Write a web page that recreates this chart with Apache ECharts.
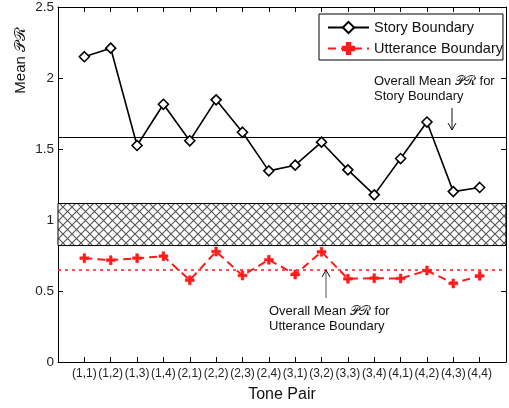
<!DOCTYPE html>
<html>
<head>
<meta charset="utf-8">
<script src="https://cdn.jsdelivr.net/npm/echarts@6/dist/echarts.min.js"></script>
<style>html,body{margin:0;padding:0;background:#fff}#c{width:509px;height:408px}</style>
</head>
<body>
<div id="c"></div>
<script>
var categories = ['(1,1)','(1,2)','(1,3)','(1,4)','(2,1)','(2,2)','(2,3)','(2,4)','(3,1)','(3,2)','(3,3)','(3,4)','(4,1)','(4,2)','(4,3)','(4,4)'];
var storyValues = [2.15,2.21,1.525,1.815,1.558,1.846,1.618,1.346,1.386,1.548,1.353,1.177,1.433,1.69,1.20,1.229];
var uttValues = [0.731,0.717,0.731,0.745,0.576,0.778,0.609,0.72,0.616,0.776,0.586,0.59,0.588,0.644,0.553,0.607];
var storyMean = 1.58;
var uttMean = 0.654;
var bandRange = [0.82, 1.116];

var F = 'Liberation Sans, Arial, sans-serif';
var PR = '\uD835\uDCAB\u211B';

// crosshatch pattern
var T = 9;
var pc = document.createElement('canvas');
pc.width = T; pc.height = T;
var g = pc.getContext('2d');
g.fillStyle = '#fff'; g.fillRect(0,0,T,T);
g.strokeStyle = '#555'; g.lineWidth = 1.1;
g.beginPath(); g.moveTo(0,0); g.lineTo(T,T); g.moveTo(T,0); g.lineTo(0,T); g.stroke();

function pairs(vals){ return vals.map(function(v,i){ return [i+1, v]; }); }

var diamond = 'path://M0,-1L1,0L0,1L-1,0Z';
var plus = 'path://M-1,-0.3L-0.3,-0.3L-0.3,-1L0.3,-1L0.3,-0.3L1,-0.3L1,0.3L0.3,0.3L0.3,1L-0.3,1L-0.3,0.3L-1,0.3Z';

var chart = echarts.init(document.getElementById('c'));
var axisCommon = {
  axisLine: {show: true, onZero: false, lineStyle: {color: '#000', width: 1}},
  axisTick: {show: true, inside: true, length: 5, lineStyle: {color: '#000'}},
  splitLine: {show: false}
};
chart.setOption({
  animation: false,
  grid: {left: 58, right: 1, top: 7, bottom: 45.5, show: false},
  xAxis: [
    Object.assign({type: 'value', min: 0, max: 17, interval: 1, position: 'bottom',
      axisLabel: {fontFamily: F, fontSize: 12, color: '#222', margin: 6,
        formatter: function(v){ return (v >= 1 && v <= 16) ? categories[v-1] : ''; }},
      name: 'Tone Pair', nameLocation: 'middle', nameGap: 25,
      nameTextStyle: {fontFamily: F, fontSize: 16, color: '#111'}}, axisCommon),
    Object.assign({type: 'value', min: 0, max: 17, interval: 1, position: 'top',
      axisLabel: {show: false}}, axisCommon)
  ],
  yAxis: [
    Object.assign({type: 'value', min: 0, max: 2.5, interval: 0.5, position: 'left',
      axisLabel: {fontFamily: F, fontSize: 13.5, color: '#222', margin: 4,
        formatter: function(v){ return String(v); }}}, axisCommon),
    Object.assign({type: 'value', min: 0, max: 2.5, interval: 0.5, position: 'right',
      axisLabel: {show: false}}, axisCommon)
  ],
  legend: {
    left: 319, top: 14, orient: 'vertical', z: 10,
    backgroundColor: '#fff', borderColor: '#000', borderWidth: 1, borderRadius: 0,
    padding: [6, 0, 4, 8], itemGap: 6, itemWidth: 41, itemHeight: 14,
    textStyle: {fontFamily: F, fontSize: 14.5, color: '#111', width: 128},
    data: ['Story Boundary', 'Utterance Boundary']
  },
  series: [
    {
      name: 'band', type: 'line', data: [], silent: true,
      markArea: {silent: true, itemStyle: {color: {image: pc, repeat: 'repeat'}, borderColor: '#000', borderWidth: 1, opacity: 1},
        data: [[{xAxis: 0, yAxis: bandRange[0]}, {xAxis: 17, yAxis: bandRange[1]}]]}
    },
    {
      name: 'Story Boundary', type: 'line', data: pairs(storyValues),
      symbol: diamond, symbolSize: 10, z: 5,
      lineStyle: {color: '#000', width: 1.6},
      itemStyle: {color: '#fff', borderColor: '#000', borderWidth: 1.6},
      markLine: {silent: true, symbol: 'none', label: {show: false},
        lineStyle: {color: '#000', width: 1.2, type: 'solid'},
        data: [{yAxis: storyMean}]}
    },
    {
      name: 'Utterance Boundary', type: 'line', data: pairs(uttValues),
      symbol: plus, symbolSize: 9, z: 5,
      lineStyle: {color: '#ff1a1a', width: 2, type: [8, 5]},
      itemStyle: {color: '#ff1a1a', borderColor: '#ff1a1a', borderWidth: 0.5},
      markLine: {silent: true, symbol: 'none', label: {show: false},
        lineStyle: {color: '#ff1a1a', width: 1.5, type: [3, 4]},
        data: [{yAxis: uttMean}]}
    }
  ],
  graphic: [
    {type: 'text', left: 13, top: 27, rotation: Math.PI/2, style: {text: 'Mean ' + PR, font: '15px ' + F, fill: '#111'}, z: 10},
    {type: 'text', left: 374, top: 74, style: {text: 'Overall Mean ' + PR + ' for\nStory Boundary', font: '13px ' + F, fill: '#111', lineHeight: 15}, z: 10},
    {type: 'line', shape: {x1: 452, y1: 108, x2: 452, y2: 130}, style: {stroke: '#111', lineWidth: 1}, z: 10},
    {type: 'polyline', shape: {points: [[448, 123], [452, 130], [456, 123]]}, style: {stroke: '#111', lineWidth: 1, fill: null}, z: 10},
    {type: 'line', shape: {x1: 326, y1: 270, x2: 326, y2: 298}, style: {stroke: '#555', lineWidth: 1}, z: 10},
    {type: 'polyline', shape: {points: [[322, 277], [326, 270], [330, 277]]}, style: {stroke: '#111', lineWidth: 1, fill: null}, z: 10},
    {type: 'text', left: 269, top: 304, style: {text: 'Overall Mean ' + PR + ' for\nUtterance Boundary', font: '13px ' + F, fill: '#111', lineHeight: 15}, z: 10}
  ]
});
</script>
</body>
</html>
